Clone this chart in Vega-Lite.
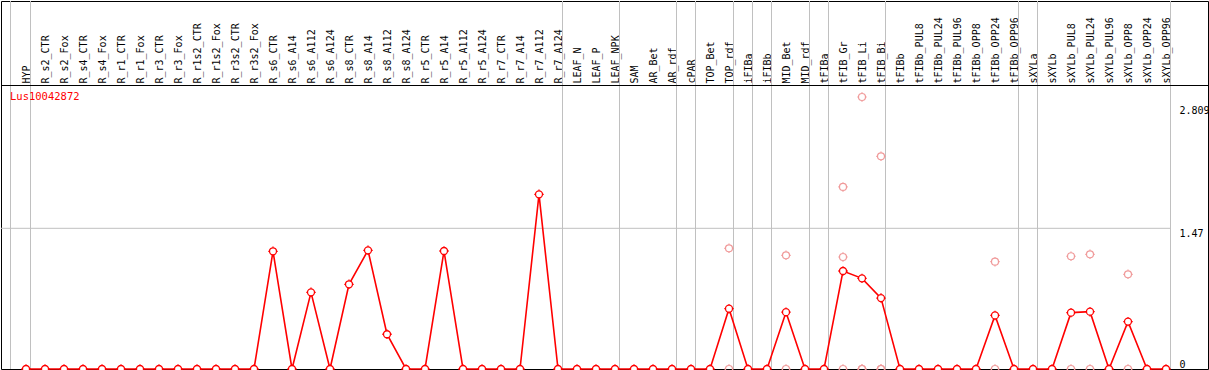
{
  "$schema": "https://vega.github.io/schema/vega-lite/v6.json",
  "width": 1207,
  "height": 368,
  "autosize": {"type": "none"},
  "padding": {"left": 1, "top": 1, "right": 1, "bottom": 1},
  "background": "white",
  "config": {
    "view": {"stroke": "black", "strokeWidth": 1},
    "font": "DejaVu Sans Mono"
  },
  "data": {
    "values": [
      {"sample": "HYP", "value": 0, "first": true, "groupEnd": true},
      {"sample": "R_s2_CTR", "value": 0},
      {"sample": "R_s2_Fox", "value": 0},
      {"sample": "R_s4_CTR", "value": 0},
      {"sample": "R_s4_Fox", "value": 0},
      {"sample": "R_r1_CTR", "value": 0},
      {"sample": "R_r1_Fox", "value": 0},
      {"sample": "R_r3_CTR", "value": 0},
      {"sample": "R_r3_Fox", "value": 0},
      {"sample": "R_r1s2_CTR", "value": 0},
      {"sample": "R_r1s2_Fox", "value": 0},
      {"sample": "R_r3s2_CTR", "value": 0},
      {"sample": "R_r3s2_Fox", "value": 0},
      {"sample": "R_s6_CTR", "value": 1.23},
      {"sample": "R_s6_A14", "value": 0},
      {"sample": "R_s6_A112", "value": 0.801},
      {"sample": "R_s6_A124", "value": 0},
      {"sample": "R_s8_CTR", "value": 0.885},
      {"sample": "R_s8_A14", "value": 1.24},
      {"sample": "R_s8_A112", "value": 0.363},
      {"sample": "R_s8_A124", "value": 0},
      {"sample": "R_r5_CTR", "value": 0},
      {"sample": "R_r5_A14", "value": 1.233},
      {"sample": "R_r5_A112", "value": 0},
      {"sample": "R_r5_A124", "value": 0},
      {"sample": "R_r7_CTR", "value": 0},
      {"sample": "R_r7_A14", "value": 0},
      {"sample": "R_r7_A112", "value": 1.825},
      {"sample": "R_r7_A124", "value": 0, "groupEnd": true},
      {"sample": "LEAF_N", "value": 0},
      {"sample": "LEAF_P", "value": 0},
      {"sample": "LEAF_NPK", "value": 0, "groupEnd": true},
      {"sample": "SAM", "value": 0},
      {"sample": "AR_Bet", "value": 0},
      {"sample": "AR_rdf", "value": 0, "groupEnd": true},
      {"sample": "cPAR", "value": 0, "groupEnd": true},
      {"sample": "TOP_Bet", "value": 0},
      {"sample": "TOP_rdf", "value": 0.63, "groupEnd": true, "reps": [1.261, 0]},
      {"sample": "iFIBa", "value": 0, "groupEnd": true},
      {"sample": "iFIBb", "value": 0, "groupEnd": true},
      {"sample": "MID_Bet", "value": 0.594, "reps": [1.188, 0]},
      {"sample": "MID_rdf", "value": 0, "groupEnd": true},
      {"sample": "tFIBa", "value": 0, "groupEnd": true},
      {"sample": "tFIB_Gr", "value": 1.024, "reps": [1.902, 1.17, 0]},
      {"sample": "tFIB_Li", "value": 0.947, "reps": [2.842, 0, 0]},
      {"sample": "tFIB_Bi", "value": 0.741, "groupEnd": true, "reps": [2.222, 0, 0]},
      {"sample": "tFIBb", "value": 0},
      {"sample": "tFIBb_PUL8", "value": 0},
      {"sample": "tFIBb_PUL24", "value": 0},
      {"sample": "tFIBb_PUL96", "value": 0},
      {"sample": "tFIBb_OPP8", "value": 0},
      {"sample": "tFIBb_OPP24", "value": 0.56, "reps": [1.121, 0]},
      {"sample": "tFIBb_OPP96", "value": 0, "groupEnd": true},
      {"sample": "sXYLa", "value": 0, "groupEnd": true},
      {"sample": "sXYLb", "value": 0},
      {"sample": "sXYLb_PUL8", "value": 0.589, "reps": [1.178, 0]},
      {"sample": "sXYLb_PUL24", "value": 0.599, "reps": [1.198, 0]},
      {"sample": "sXYLb_PUL96", "value": 0},
      {"sample": "sXYLb_OPP8", "value": 0.495, "reps": [0.989, 0]},
      {"sample": "sXYLb_OPP24", "value": 0},
      {"sample": "sXYLb_OPP96", "value": 0, "groupEnd": true}
    ]
  },
  "layer": [
    {
      "transform": [{"filter": "datum.first"}],
      "mark": {"type": "rule", "color": "#c0c0c0", "strokeWidth": 1, "xOffset": -15.5},
      "encoding": {"x": {"field": "sample", "type": "nominal"}}
    },
    {
      "transform": [{"filter": "datum.groupEnd"}],
      "mark": {"type": "rule", "color": "#c0c0c0", "strokeWidth": 1, "xOffset": 4.5},
      "encoding": {"x": {"field": "sample", "type": "nominal"}}
    },
    {
      "data": {"values": [{"value": 1.47}]},
      "mark": {"type": "rule", "color": "#c0c0c0", "strokeWidth": 1, "xOffset": -25, "x2Offset": 4.5},
      "encoding": {
        "y": {"field": "value", "type": "quantitative"},
        "x": {"datum": "HYP", "type": "nominal"},
        "x2": {"datum": "sXYLb_OPP96"}
      }
    },
    {
      "data": {"values": [{"value": 2.9621}]},
      "mark": {"type": "rule", "color": "black", "strokeWidth": 1},
      "encoding": {"y": {"field": "value", "type": "quantitative"}}
    },
    {
      "transform": [{"filter": "isValid(datum.reps)"}, {"flatten": ["reps"]}],
      "mark": {
        "type": "point",
        "shape": "M1,0A1,1,0,1,1,-1,0A1,1,0,1,1,1,0ZM0,-1L0,-1.35M0,1L0,1.35M1,0L1.35,0M-1,0L-1.35,0",
        "size": 49,
        "filled": false,
        "fill": "transparent",
        "stroke": "#f09a9a",
        "strokeWidth": 1.2,
        "opacity": 1
      },
      "encoding": {
        "x": {"field": "sample", "type": "nominal"},
        "y": {"field": "reps", "type": "quantitative"}
      }
    },
    {
      "mark": {"type": "line", "color": "#ff0000", "strokeWidth": 1.6},
      "encoding": {
        "x": {
          "field": "sample",
          "type": "nominal",
          "scale": {
            "type": "point",
            "padding": 0,
            "range": [25, 1165],
            "domain": ["HYP","R_s2_CTR","R_s2_Fox","R_s4_CTR","R_s4_Fox","R_r1_CTR","R_r1_Fox","R_r3_CTR","R_r3_Fox","R_r1s2_CTR","R_r1s2_Fox","R_r3s2_CTR","R_r3s2_Fox","R_s6_CTR","R_s6_A14","R_s6_A112","R_s6_A124","R_s8_CTR","R_s8_A14","R_s8_A112","R_s8_A124","R_r5_CTR","R_r5_A14","R_r5_A112","R_r5_A124","R_r7_CTR","R_r7_A14","R_r7_A112","R_r7_A124","LEAF_N","LEAF_P","LEAF_NPK","SAM","AR_Bet","AR_rdf","cPAR","TOP_Bet","TOP_rdf","iFIBa","iFIBb","MID_Bet","MID_rdf","tFIBa","tFIB_Gr","tFIB_Li","tFIB_Bi","tFIBb","tFIBb_PUL8","tFIBb_PUL24","tFIBb_PUL96","tFIBb_OPP8","tFIBb_OPP24","tFIBb_OPP96","sXYLa","sXYLb","sXYLb_PUL8","sXYLb_PUL24","sXYLb_PUL96","sXYLb_OPP8","sXYLb_OPP24","sXYLb_OPP96"]
          },
          "axis": {
            "orient": "top",
            "offset": -84,
            "title": null,
            "domain": false,
            "ticks": false,
            "grid": false,
            "labelAngle": -90,
            "labelAlign": "left",
            "labelBaseline": "middle",
            "labelPadding": 2,
            "labelFontSize": 10,
            "labelColor": "black",
            "labelOverlap": false,
            "labelFlush": false,
            "labelBound": false,
            "labelLimit": 0
          }
        },
        "y": {
          "field": "value",
          "type": "quantitative",
          "scale": {"domain": [0, 3.845], "nice": false, "zero": false},
          "axis": {
            "orient": "right",
            "offset": -29,
            "title": null,
            "domain": false,
            "ticks": false,
            "grid": false,
            "values": [0, 1.47, 2.809],
            "labelExpr": "toString(datum.value)",
            "labelAlign": "left",
            "labelPadding": 0,
            "labelFontSize": 10,
            "labelColor": "black",
            "labelBaseline": {"condition": {"test": "datum.value == 0", "value": "bottom"}, "value": "top"},
            "labelOffset": {"condition": {"test": "datum.value > 2", "value": 5}, "value": 0},
            "labelOverlap": false,
            "labelFlush": false,
            "labelBound": false
          }
        }
      }
    },
    {
      "mark": {
        "type": "point",
        "shape": "M1,0A1,1,0,1,1,-1,0A1,1,0,1,1,1,0ZM0,-1L0,-1.35M0,1L0,1.35M1,0L1.35,0M-1,0L-1.35,0",
        "size": 49,
        "filled": true,
        "fill": "white",
        "stroke": "#ff0000",
        "strokeWidth": 1.3,
        "opacity": 1
      },
      "encoding": {
        "x": {"field": "sample", "type": "nominal"},
        "y": {"field": "value", "type": "quantitative"}
      }
    },
    {
      "data": {"values": [{"gene": "Lus10042872", "value": 2.837}]},
      "mark": {"type": "text", "color": "#ff0000", "fontSize": 10.5, "align": "left", "baseline": "middle", "dx": -16},
      "encoding": {
        "x": {"datum": "HYP", "type": "nominal"},
        "y": {"field": "value", "type": "quantitative"},
        "text": {"field": "gene"}
      }
    }
  ]
}
